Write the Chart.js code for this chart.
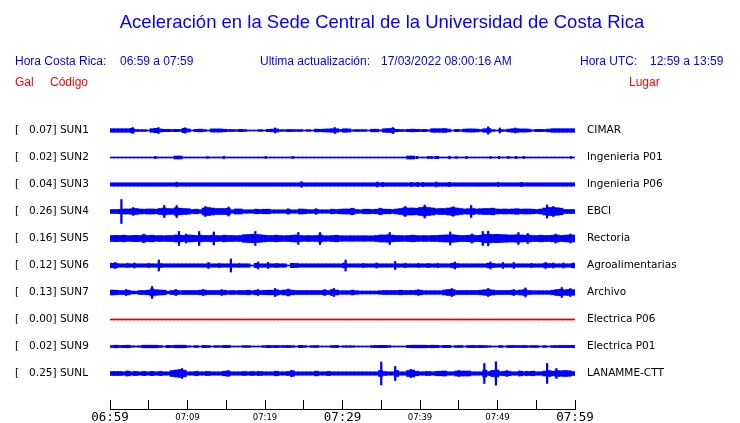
<!DOCTYPE html>
<html><head><meta charset="utf-8">
<script src="https://cdn.jsdelivr.net/npm/chart.js@4.4.0/dist/chart.umd.min.js"></script>
<style>
body{margin:0;background:#fff;}
#wrap{position:relative;width:740px;height:423px;overflow:hidden;background:#fff;}
canvas{position:absolute;left:0;top:0;}
.t{position:absolute;white-space:pre;font-family:"Liberation Sans",Arial,sans-serif;font-size:12px;line-height:14px;color:#0000ff;}
.r{color:#ff0000;}
#title{font-size:18.5px;line-height:22px;left:0;width:764px;text-align:center;top:11px;}
</style></head><body>
<div id="wrap">
<canvas id="c" width="740" height="423"></canvas>
<div class="t" id="title">Aceleración en la Sede Central de la Universidad de Costa Rica</div>
<div class="t" style="left:15px;top:54px">Hora Costa Rica:</div>
<div class="t" style="left:120px;top:54px">06:59 a 07:59</div>
<div class="t" style="left:260px;top:54px">Ultima actualización:</div>
<div class="t" style="left:381px;top:54px">17/03/2022 08:00:16 AM</div>
<div class="t" style="left:580px;top:54px">Hora UTC:</div>
<div class="t" style="left:650px;top:54px">12:59 a 13:59</div>
<div class="t r" style="left:15px;top:75px">Gal</div>
<div class="t r" style="left:50px;top:75px">Código</div>
<div class="t r" style="left:629px;top:75px">Lugar</div>
</div>
<script>
// ---- data ----
const codes  = ['SUN1','SUN2','SUN3','SUN4','SUN5','SUN6','SUN7','SUN8','SUN9','SUNL'];
const galMax = [0.07, 0.02, 0.04, 0.26, 0.16, 0.12, 0.13, 0.00, 0.02, 0.25];
const places = ['CIMAR','Ingenieria P01','Ingenieria P06','EBCI','Rectoria','Agroalimentarias','Archivo','Electrica P06','Electrica P01','LANAMME-CTT'];
const tickMinutes = [0, 10, 20, 30, 40, 50, 60];
const tickLabels  = ['06:59','07:09','07:19','07:29','07:39','07:49','07:59'];
const bigLabels   = ['06:59','07:29','07:59'];
const spanMinutes = 60;

// envelope half-amplitudes per ~0.52 min bin (116 bins over 06:59-07:59)
const envSUN1 = [
1.8,1.8,1.8,1.8,1.8,2.2,1.0,0.9,0.9,0.5,
1.8,2.2,1.6,1.2,1.2,1.0,1.2,1.0,2.2,1.6,
0.5,1.2,1.4,1.0,0.5,1.6,1.6,1.6,1.3,1.0,
1.0,0.8,1.2,1.0,0.5,0.5,0.5,0.9,0.5,1.2,
1.4,1.6,0.9,0.8,1.1,1.0,0.9,1.0,0.5,0.9,
0.5,1.4,1.2,1.4,1.6,1.8,1.8,1.0,1.8,1.6,
0.8,1.0,0.9,0.9,0.5,1.3,1.3,0.7,1.8,2.0,
2.0,1.2,1.0,0.9,1.2,1.4,1.2,1.0,1.2,0.8,
1.8,1.8,1.8,2.0,1.4,0.5,1.2,0.8,1.4,1.6,
1.6,1.4,1.0,1.8,2.0,0.9,0.5,1.0,0.8,1.4,
1.8,1.8,1.6,1.6,1.4,0.7,1.2,1.2,1.0,1.4,
1.8,1.8,1.8,1.8,1.8,1.8];
const envSUN2 = [
0.5,0.5,0.5,0.5,0.5,0.5,0.5,0.5,0.5,0.5,
0.5,0.5,0.5,0.5,0.5,0.5,1.5,1.5,0.5,0.5,
0.5,0.5,0.5,0.5,0.5,0.5,0.5,0.5,0.5,0.5,
0.5,0.5,0.5,0.5,0.5,0.5,0.5,0.5,0.5,0.5,
0.5,0.5,0.5,0.5,0.5,0.5,0.5,0.5,0.5,0.5,
0.5,0.5,0.5,0.5,0.5,0.5,0.5,0.5,0.5,0.5,
0.5,0.5,0.5,0.5,0.5,0.5,0.5,0.5,0.5,0.5,
0.5,0.5,0.5,0.5,1.5,1.5,0.5,0.5,0.5,0.5,
0.5,1.2,0.5,0.5,0.5,0.5,0.5,0.5,0.5,0.5,
0.5,0.5,0.5,0.5,0.5,0.5,0.5,0.5,0.5,0.5,
0.5,0.5,0.5,0.5,0.5,0.5,0.5,0.5,0.5,0.5,
0.5,0.5,0.5,0.5,0.5,0.5];
const envSUN3 = [
1.7,1.7,1.7,1.7,1.7,1.7,1.7,1.7,1.7,1.7,
1.7,1.7,1.7,1.7,1.7,1.7,1.7,1.7,1.7,1.7,
1.7,1.7,1.7,1.7,1.7,1.7,1.7,1.7,1.7,1.7,
1.7,1.7,1.7,1.7,1.7,1.7,1.7,1.7,1.7,1.7,
1.7,1.7,1.7,1.7,1.7,1.7,1.7,1.7,1.7,1.7,
1.7,1.7,1.7,1.7,1.7,1.7,1.7,1.7,1.7,1.7,
1.7,1.7,1.7,1.7,1.7,1.7,1.7,1.7,1.7,1.7,
1.7,1.7,1.7,1.7,1.7,1.7,1.7,1.7,1.7,1.7,
1.7,1.7,1.7,1.7,1.7,1.7,1.7,1.7,1.7,1.7,
1.7,1.7,1.7,1.7,1.7,1.7,1.7,1.7,1.7,1.7,
1.7,1.7,1.7,1.7,1.7,1.7,1.7,1.7,1.7,1.7,
1.7,1.7,1.7,1.7,1.7,1.7];
const envSUN4 = [
2.0,2.0,2.2,2.5,2.5,2.8,3.0,2.5,2.3,2.5,
2.5,2.3,3.0,3.5,3.0,2.8,3.8,3.3,3.0,2.8,
2.0,2.3,1.8,3.5,4.0,3.5,3.0,3.0,3.0,3.3,
1.7,2.5,2.5,1.7,1.7,1.7,2.3,2.0,2.3,2.3,
1.7,1.7,1.7,1.7,1.9,1.7,1.7,2.5,2.3,1.9,
1.8,2.0,1.7,1.7,1.7,2.3,2.0,2.3,2.5,2.5,
3.0,2.0,1.7,2.3,2.3,2.0,2.3,2.8,2.3,2.3,
2.0,2.5,3.0,3.8,3.5,3.5,3.3,4.0,4.5,4.0,
3.5,2.8,3.0,3.0,3.5,4.0,3.5,3.0,2.5,2.8,
3.0,2.5,2.8,3.0,3.0,3.3,2.5,2.3,2.5,2.3,
2.5,2.8,2.3,2.5,2.5,2.3,2.0,2.5,3.5,4.0,
4.0,3.8,3.3,2.0,2.0,2.0];
const envSUN5 = [
3.0,3.2,3.0,3.3,2.8,3.0,3.2,3.0,3.5,3.0,
3.3,2.8,3.0,2.8,3.0,3.0,3.5,3.3,3.0,3.5,
3.3,3.0,3.3,3.0,3.0,3.3,3.0,2.8,3.3,3.0,
3.0,2.8,3.0,3.8,4.0,4.2,4.0,3.8,3.3,3.0,
3.0,3.3,3.0,2.8,3.0,3.3,3.5,3.0,2.8,3.0,
2.8,3.0,3.5,2.8,2.7,3.0,3.3,2.8,2.7,2.7,
2.8,2.7,2.7,2.8,2.7,2.7,3.0,3.5,3.5,3.8,
3.3,3.0,3.0,2.8,3.0,3.3,3.0,2.8,3.0,2.8,
3.0,3.0,3.3,3.5,3.5,3.8,3.3,3.0,3.0,3.3,
3.5,3.0,3.3,4.2,4.3,4.0,4.2,4.0,3.8,3.5,
3.5,3.8,3.5,3.3,3.5,3.0,3.0,3.3,3.0,3.0,
3.3,3.5,3.0,3.3,3.5,3.5];
const envSUN6 = [
2.3,2.0,1.7,1.7,1.7,1.7,1.7,1.7,1.7,1.7,
1.7,1.7,2.0,1.7,1.7,1.7,1.7,1.7,1.7,1.7,
1.7,1.7,1.7,1.7,1.7,1.7,1.7,1.7,1.7,1.7,
1.7,1.7,1.7,1.7,1.7,0.5,2.2,1.7,1.7,1.7,
1.7,1.7,1.7,1.7,0.5,2.2,2.0,1.7,1.7,1.7,
1.7,1.7,1.7,1.7,1.7,1.7,1.7,1.7,2.3,1.7,
1.7,1.7,1.7,1.7,1.7,1.7,1.7,1.7,1.7,1.7,
1.7,1.7,1.7,1.7,1.7,1.7,1.7,1.7,1.7,1.7,
1.7,1.7,1.7,1.7,1.7,2.3,2.0,1.7,1.7,1.7,
1.7,1.7,1.7,1.7,2.3,2.0,1.7,1.7,1.7,1.7,
1.7,1.7,1.7,1.7,1.7,1.7,1.7,1.7,2.0,2.0,
1.7,1.7,1.7,1.7,1.7,2.0];
const envSUN7 = [
2.5,2.3,2.0,2.0,2.3,1.5,1.3,2.0,2.0,2.3,
3.5,2.8,2.5,2.3,1.3,2.0,2.3,1.8,2.0,2.0,
2.0,2.0,2.3,2.5,2.0,2.0,2.0,2.0,2.3,1.8,
2.0,1.8,2.0,2.0,2.3,1.8,2.3,2.0,2.2,2.3,
2.3,2.8,2.0,2.5,2.8,2.3,2.0,2.0,2.0,2.0,
2.0,2.0,2.0,2.3,2.0,3.0,2.5,1.8,1.8,1.8,
2.0,1.8,1.5,1.5,1.5,1.5,1.5,1.8,2.0,2.0,
2.0,2.0,2.3,2.0,2.0,2.0,2.3,2.3,1.8,1.8,
1.8,1.8,1.8,2.5,3.0,3.0,2.0,2.0,2.0,2.0,
2.0,2.0,2.3,2.8,3.0,2.5,2.0,2.0,2.0,2.0,
2.3,2.0,2.5,3.0,2.0,1.8,1.8,1.8,1.8,1.8,
2.3,3.0,3.3,2.8,3.0,2.8];
const envSUN8 = [
0.5,0.5,0.5,0.5,0.5,0.5,0.5,0.5,0.5,0.5,
0.5,0.5,0.5,0.5,0.5,0.5,0.5,0.5,0.5,0.5,
0.5,0.5,0.5,0.5,0.5,0.5,0.5,0.5,0.5,0.5,
0.5,0.5,0.5,0.5,0.5,0.5,0.5,0.5,0.5,0.5,
0.5,0.5,0.5,0.5,0.5,0.5,0.5,0.5,0.5,0.5,
0.5,0.5,0.5,0.5,0.5,0.5,0.5,0.5,0.5,0.5,
0.5,0.5,0.5,0.5,0.5,0.5,0.5,0.5,0.5,0.5,
0.5,0.5,0.5,0.5,0.5,0.5,0.5,0.5,0.5,0.5,
0.5,0.5,0.5,0.5,0.5,0.5,0.5,0.5,0.5,0.5,
0.5,0.5,0.5,0.5,0.5,0.5,0.5,0.5,0.5,0.5,
0.5,0.5,0.5,0.5,0.5,0.5,0.5,0.5,0.5,0.5,
0.5,0.5,0.5,0.5,0.5,0.5];
const envSUN9 = [
1.0,1.3,1.0,1.2,1.3,0.8,0.5,0.8,1.3,1.3,
1.3,1.3,1.0,0.5,1.2,1.0,1.3,1.3,1.3,0.8,
0.5,1.0,0.5,1.2,1.0,0.5,0.9,0.8,1.2,1.2,
0.5,0.5,0.5,0.9,0.9,0.5,0.5,0.5,0.9,1.2,
1.0,1.1,0.9,1.0,1.1,0.9,0.5,1.2,0.9,0.5,
0.9,1.0,0.5,0.5,0.5,1.0,1.1,0.5,0.8,0.8,
0.8,0.5,0.5,0.5,0.5,1.0,1.1,1.2,1.2,1.0,
0.5,0.5,0.5,0.5,1.2,1.3,1.3,1.3,1.3,1.2,
1.3,1.2,0.8,1.2,1.2,0.5,1.0,1.0,0.5,1.1,
1.1,1.0,1.1,1.0,0.8,0.5,0.5,1.0,0.5,1.1,
1.1,1.0,1.0,1.1,0.8,1.0,1.0,0.5,1.0,0.5,
1.0,1.0,1.1,1.1,1.1,1.2];
const envSUNL = [
2.0,2.0,2.0,1.7,2.3,1.7,2.0,1.7,2.0,1.7,
2.0,1.7,2.0,1.7,1.7,3.0,3.5,4.0,3.3,1.7,
1.7,2.0,1.7,1.7,2.0,1.7,1.7,1.7,2.3,2.5,
1.7,1.7,1.7,2.0,1.7,2.0,1.7,2.0,1.7,1.7,
1.7,2.3,1.7,1.7,2.0,2.8,1.7,1.7,1.7,1.7,
1.7,2.3,1.7,1.7,2.0,1.7,1.7,1.7,1.7,1.7,
1.7,1.7,1.7,1.7,1.7,1.7,1.7,3.0,2.0,1.7,
1.7,3.0,1.7,1.7,3.0,3.5,2.3,1.7,1.7,2.0,
1.7,2.0,2.3,2.5,1.7,1.7,2.5,2.5,2.5,2.5,
1.7,1.7,1.7,3.5,2.0,3.0,3.5,2.0,2.3,2.3,
1.7,1.7,2.3,1.7,2.0,2.3,1.7,1.7,2.5,3.0,
2.3,3.0,2.8,3.0,2.8,2.0];

// isolated spikes: [minute after 06:59, half-amplitude]
const spkSUN1 = [[2.93,3],[6.25,3],[9.7,2.7],[21.3,2.5],[29.0,3],[36.5,3],[48.8,3.7],[50.3,2.5],[52.3,2.5]];
const spkSUN2 = [[5.86,1.2],[12.6,1.0],[14.7,1.3],[20.1,1.0],[23.6,1.0],[39.6,1.2],[41.1,1.2],[41.5,1.2],[43.8,1.3],[44.7,1.0],[46.0,1.2],[49.1,1.0],[50.2,1.2],[51.4,1.0],[52.4,1.2],[53.4,1.0],[59.5,1.0]];
const spkSUN3 = [[8.6,2.3],[24.7,2.8],[34.5,2.5],[35.2,2.2],[38.9,2.2],[39.7,2.2],[40.4,2.2],[42.1,2.5],[43.8,2.2],[50.1,2.2],[53.1,2.2]];
const spkSUN4 = [[1.47,12],[3.0,4],[7.0,6],[8.6,6],[12.3,5],[15.3,4.5],[23.0,2.8],[26.6,2.8],[31.2,3.3],[34.9,3.3],[38.1,5],[40.6,6.5],[44.3,4.8],[46.6,6],[56.4,6.5],[57.2,5]];
const spkSUN5 = [[4.35,4.3],[8.9,7],[9.8,4.5],[11.5,7],[13.4,6.5],[18.75,7],[24.3,6],[27.1,6],[36.1,6],[43.9,6.5],[46.7,4.5],[48.1,7],[48.8,7.3],[52.7,6],[53.9,5],[57.5,4.5],[59.4,4.5]];
const spkSUN6 = [[0.69,3],[2.28,2],[3.15,2.5],[5.0,2],[6.3,5.5],[12.7,3],[14.1,2],[15.6,6.5],[16.7,1.8],[19.1,3.5],[20.4,3],[21.5,2],[30.4,5.5],[32.7,2],[34.4,2.5],[36.8,4],[38.1,2],[39.8,2],[41.1,2],[42.3,2],[44.5,3.5],[49.1,3.5],[50.7,3],[52.1,3],[54.4,2],[56.2,3],[57.2,2.5],[58.5,2.5],[59.8,2.5]];
const spkSUN7 = [[2.07,3],[5.43,6],[8.5,3],[12.0,3],[14.4,3],[19.1,3],[21.3,4],[23.0,3.5],[27.7,3],[28.9,4],[31.3,2.5],[39.8,3],[44.1,4],[48.8,4],[52.1,3],[53.6,4.5],[58.3,5],[59.4,4]];
const spkSUN8 = [];
const spkSUN9 = [];
const spkSUNL = [[2.16,2.5],[3.15,2],[4.44,2],[5.43,2],[6.6,2],[9.3,5],[11.2,2.3],[12.4,2],[15.2,2.8],[19.1,2],[23.4,3],[26.6,2.3],[28.3,2],[35.0,11.5],[36.8,7],[38.8,4],[40.8,2],[42.2,2.3],[45.0,3],[48.3,10],[49.3,3],[49.8,11.7],[51.2,3],[52.8,2.5],[53.7,2.3],[56.4,10],[57.6,5]];

const envelopes = [envSUN1,envSUN2,envSUN3,envSUN4,envSUN5,envSUN6,envSUN7,envSUN8,envSUN9,envSUNL];
const spikes    = [spkSUN1,spkSUN2,spkSUN3,spkSUN4,spkSUN5,spkSUN6,spkSUN7,spkSUN8,spkSUN9,spkSUNL];

// ---- presentation ----
const ROW_PX = 27;          // vertical pitch between traces (px)
const BLUE = '#0000ff', RED = '#e00000';
envelopes.forEach((e,i)=>{ if(e.length!==116) throw new Error('env '+codes[i]+' len '+e.length); });

const leftLabels  = codes.map((c,i)=>'[   '+galMax[i].toFixed(2)+'] '+c);
const rowIdx = codes.map((c,i)=>i);
const datasets = [];
envelopes.forEach((env, r) => {
  const col = galMax[r] === 0 ? RED : BLUE;
  const n = env.length;
  datasets.push({
    data: env.map((a,i)=>({x:(i+0.5)*spanMinutes/n, y:[r - a/ROW_PX, r + a/ROW_PX]})),
    backgroundColor: col, borderWidth: 0, barThickness: 465/n + 0.2, grouped: false
  });
  datasets.push({
    data: spikes[r].map(([m,a])=>({x:m, y:[r - a/ROW_PX, r + a/ROW_PX]})),
    backgroundColor: col, borderWidth: 0, barThickness: 1.6, grouped: false
  });
});

const yMin = -1.5, yMax = 319/ROW_PX - 1.5;
const labelFont = {family:'"DejaVu Sans", sans-serif', size:10.5};

new Chart(document.getElementById('c'), {
  type: 'bar',
  data: { datasets },
  options: {
    responsive: false, animation: false, devicePixelRatio: 1,
    layout: { padding: { left: 15, top: 90, right: 0, bottom: 0 } },
    plugins: { legend: {display:false}, tooltip: {enabled:false}, title:{display:false} },
    scales: {
      x: {
        type: 'linear', min: 0, max: spanMinutes, offset: false, position: 'bottom',
        afterBuildTicks: s => { s.ticks = []; for (let m = 0; m <= spanMinutes; m += 5) s.ticks.push({value:m}); },
        ticks: {
          autoSkip: false, maxRotation: 0, minRotation: 0, color: '#000', padding: 11,
          callback: v => { const k = tickMinutes.indexOf(v); return k < 0 ? '' : tickLabels[k]; },
          font: ctx => {
            const k = tickMinutes.indexOf(ctx.tick ? ctx.tick.value : -1);
            const big = k >= 0 && bigLabels.includes(tickLabels[k]);
            return big ? {family:'"DejaVu Sans Mono", monospace', size: 12.5, lineHeight: '13px'}
                       : {family:'"DejaVu Sans", sans-serif', size: 8.5, lineHeight: '13px'};
          }
        },
        grid: { drawOnChartArea: false, drawTicks: true, tickLength: -9, color: '#000', lineWidth: 1, offset: false },
        border: { display: true, color: '#000', width: 1 },
        afterFit: s => { s.height = 14; }
      },
      y: {
        type: 'linear', position: 'left', reverse: true, min: yMin, max: yMax,
        afterBuildTicks: s => { s.ticks = rowIdx.map(v=>({value:v})); },
        ticks: { color: '#000', font: labelFont, crossAlign: 'far', padding: 0,
                 callback: (v,i) => leftLabels[i] },
        grid: { display: false, drawTicks: false }, border: { display: false },
        afterFit: s => { s.width = 95; }
      },
      y2: {
        type: 'linear', position: 'right', reverse: true, min: yMin, max: yMax,
        afterBuildTicks: s => { s.ticks = rowIdx.map(v=>({value:v})); },
        ticks: { color: '#000', font: labelFont, crossAlign: 'near', padding: 0,
                 callback: (v,i) => places[i] },
        grid: { display: false, drawTicks: true, tickLength: 12 }, border: { display: false },
        afterFit: s => { s.width = 165; }
      }
    }
  }
});
</script>
</body></html>
